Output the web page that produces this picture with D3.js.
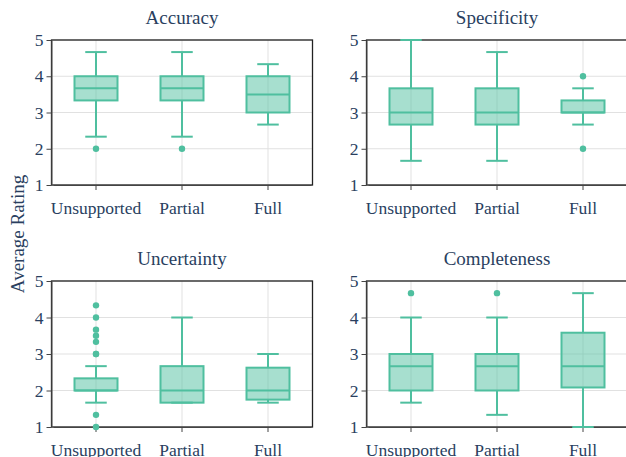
<!DOCTYPE html>
<html>
<head>
<meta charset="utf-8">
<script src="https://cdn.jsdelivr.net/npm/d3@7"></script>
<style>
  body { margin: 0; background: #fff; }
  svg { display: block; }
</style>
</head>
<body>
<svg id="chart" width="626" height="457"></svg>
<script>
// ---- data ----
const categories = ["Unsupported", "Partial", "Full"];
const metrics = ["Accuracy", "Specificity", "Uncertainty", "Completeness"];
const yTicks = [1, 2, 3, 4, 5];
const yLabel = "Average Rating";

// each entry: [lower whisker, q1, median, q3, upper whisker] per category
const accuracyStats = [[2.333, 3.333, 3.667, 4, 4.667], [2.333, 3.333, 3.667, 4, 4.667], [2.667, 3, 3.5, 4, 4.333]];
const accuracyOutliers = [[2], [2], []];
const specificityStats = [[1.667, 2.667, 3, 3.667, 5], [1.667, 2.667, 3, 3.667, 4.667], [2.667, 3, 3, 3.333, 3.667]];
const specificityOutliers = [[], [], [4, 2]];
const uncertaintyStats = [[1.667, 2, 2, 2.333, 2.667], [1.667, 1.667, 2, 2.667, 4], [1.667, 1.75, 2, 2.625, 3]];
const uncertaintyOutliers = [[4.333, 4, 3.667, 3.5, 3.333, 3, 3, 1.333, 1], [], []];
const completenessStats = [[1.667, 2, 2.667, 3, 4], [1.333, 2, 2.667, 3, 4], [1, 2.083, 2.667, 3.583, 4.667]];
const completenessOutliers = [[4.667], [4.667], []];

const statsByMetric = [accuracyStats, specificityStats, uncertaintyStats, completenessStats];
const outliersByMetric = [accuracyOutliers, specificityOutliers, uncertaintyOutliers, completenessOutliers];

// ---- layout ----
const FONT = "'Liberation Serif', 'Times New Roman', Times, serif";
const TXT = "#2a3f5f";
const lineColor = "#4fbf9f";
const panelGeom = [
  { x0: 53, x1: 311, top: 40, bottom: 185 },
  { x0: 368, x1: 626, top: 40, bottom: 185 },
  { x0: 53, x1: 311, top: 281, bottom: 427 },
  { x0: 368, x1: 626, top: 281, bottom: 427 }
];

const svg = d3.select("#chart");

metrics.forEach((metric, i) => {
  const g = panelGeom[i];
  const x = d3.scaleBand().domain(categories).range([g.x0, g.x1]);
  const y = d3.scaleLinear().domain([1, 5]).range([g.bottom, g.top]);
  const p = svg.append("g");

  // gridlines
  p.selectAll(".hg").data(yTicks).join("line")
    .attr("x1", g.x0 - 1.5).attr("x2", g.x1 + 1.5)
    .attr("y1", d => y(d)).attr("y2", d => y(d))
    .attr("stroke", "#e1e1e1").attr("stroke-width", 1);
  p.selectAll(".vg").data(categories).join("line")
    .attr("x1", d => x(d) + x.bandwidth() / 2).attr("x2", d => x(d) + x.bandwidth() / 2)
    .attr("y1", g.top).attr("y2", g.bottom)
    .attr("stroke", "#e1e1e1").attr("stroke-width", 1);

  // frame
  p.append("rect")
    .attr("x", g.x0 - 1.5).attr("y", g.top)
    .attr("width", g.x1 - g.x0 + 3).attr("height", g.bottom - g.top)
    .attr("fill", "none").attr("stroke", "#222").attr("stroke-width", 1.3);

  // axes
  const xAxis = d3.axisBottom(x).tickSize(5).tickSizeOuter(0).tickPadding(7);
  const xa = p.append("g").attr("transform", `translate(0,${g.bottom})`).call(xAxis);
  xa.attr("font-family", null).attr("font-size", null);
  xa.select(".domain").attr("stroke", "#444");
  xa.selectAll(".tick line").attr("stroke", "#444");
  xa.selectAll(".tick text")
    .style("font-family", FONT).style("font-size", "17.5px").attr("fill", TXT)
    .attr("dy", "0.95em");

  const yAxis = d3.axisLeft(y).tickValues(yTicks).tickSize(5).tickSizeOuter(0).tickPadding(3).tickFormat(d3.format("d"));
  const ya = p.append("g").attr("transform", `translate(${g.x0 - 1.5},0)`).call(yAxis);
  ya.attr("font-family", null).attr("font-size", null);
  ya.select(".domain").attr("stroke", "#555");
  ya.selectAll(".tick line").attr("stroke", "#444");
  ya.selectAll(".tick text")
    .style("font-family", FONT).style("font-size", "17.5px").attr("fill", TXT);

  // title
  p.append("text")
    .attr("x", (g.x0 + g.x1) / 2).attr("y", g.top - 16)
    .attr("text-anchor", "middle")
    .style("font-family", FONT).style("font-size", "19px").attr("fill", TXT)
    .text(metric);

  // boxes
  const stats = statsByMetric[i];
  const outs = outliersByMetric[i];
  categories.forEach((c, j) => {
    const [lo, q1, med, q3, hi] = stats[j];
    const cx = x(c) + x.bandwidth() / 2;
    const bw = x.bandwidth() * 0.5;
    const cw = bw * 0.5;
    const b = p.append("g");
    b.append("line").attr("x1", cx).attr("x2", cx).attr("y1", y(hi)).attr("y2", y(q3))
      .attr("stroke", lineColor).attr("stroke-width", 2);
    b.append("line").attr("x1", cx).attr("x2", cx).attr("y1", y(q1)).attr("y2", y(lo))
      .attr("stroke", lineColor).attr("stroke-width", 2);
    [lo, hi].forEach(v => {
      b.append("line").attr("x1", cx - cw / 2).attr("x2", cx + cw / 2)
        .attr("y1", y(v)).attr("y2", y(v))
        .attr("stroke", lineColor).attr("stroke-width", 2);
    });
    b.append("rect").attr("x", cx - bw / 2).attr("y", y(q3))
      .attr("width", bw).attr("height", y(q1) - y(q3))
      .attr("fill", lineColor).attr("fill-opacity", 0.5)
      .attr("stroke", lineColor).attr("stroke-width", 2);
    b.append("line").attr("x1", cx - bw / 2).attr("x2", cx + bw / 2)
      .attr("y1", y(med)).attr("y2", y(med))
      .attr("stroke", lineColor).attr("stroke-width", 2);
    b.selectAll("circle").data(outs[j]).join("circle")
      .attr("cx", cx).attr("cy", d => y(d)).attr("r", 3.2)
      .attr("fill", lineColor);
  });
});

// shared y label
svg.append("text")
  .attr("transform", "translate(24,234) rotate(-90)")
  .attr("text-anchor", "middle")
  .style("font-family", FONT).style("font-size", "19px").attr("fill", TXT)
  .text(yLabel);
</script>
</body>
</html>
